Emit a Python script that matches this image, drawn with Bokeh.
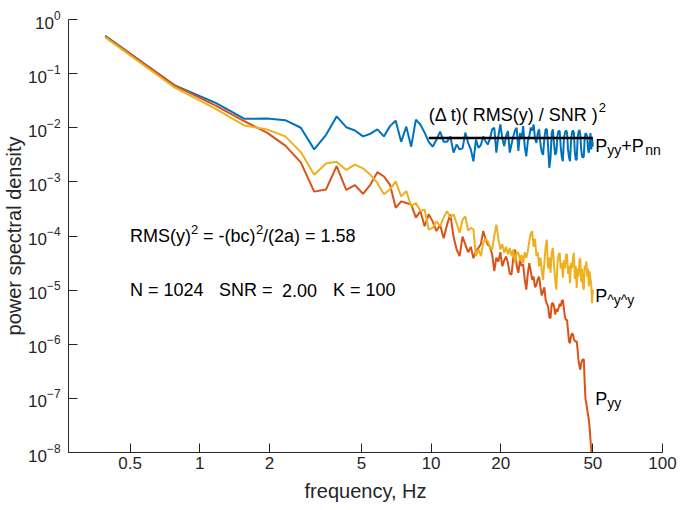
import numpy as np
from bokeh.plotting import figure
from bokeh.models import Label, FixedTicker, CustomJSTickFormatter, Range1d
from bokeh.embed import file_html
from bokeh.resources import INLINE

# ---- data ---------------------------------------------------------------
# frequency grid of the spectra (100 Hz sampling, 256-point segments)
freq = np.arange(1, 129) * 0.390625

# log10 of power spectral density
log10_pyy_pnn = [
    -0.30, -1.22, -1.54, -1.835, -1.83, -1.86, -2.00, -2.40, -2.13, -1.79,
    -1.99, -2.05, -2.16, -2.11, -2.03, -2.16, -1.97, -1.87, -2.26, -1.98,
    -2.35, -1.85, -1.94, -2.09, -2.26, -2.35, -2.22, -2.07, -2.26, -2.26,
    -2.16, -2.46, -2.31, -2.40, -2.38, -2.09, -2.28, -2.40, -2.62, -2.22,
    -2.37, -2.32, -2.16, -2.25, -2.31, -2.20, -2.03, -2.00, -2.46, -2.15,
    -1.94, -2.20, -2.34, -2.15, -2.06, -2.46, -2.30, -2.16, -2.05, -2.00,
    -2.43, -2.10, -2.20, -1.97, -2.35, -2.53, -2.25, -2.16, -2.00, -2.05,
    -1.94, -2.20, -2.28, -2.10, -2.03, -2.30, -2.45, -2.50, -2.20, -2.03,
    -2.03, -2.35, -2.74, -2.56, -2.10, -2.03, -2.30, -2.50, -2.46, -2.15,
    -2.06, -2.06, -2.35, -2.55, -2.62, -2.20, -2.09, -2.05, -2.09, -2.40,
    -2.55, -2.62, -2.25, -2.09, -2.05, -2.09, -2.45, -2.59, -2.59, -2.20,
    -2.08, -2.04, -2.13, -2.40, -2.53, -2.55, -2.53, -2.20, -2.10, -2.12,
    -2.16, -2.40, -2.46, -2.30, -2.10, -2.40, -2.20, -2.35,
]

log10_pyy = [
    -0.31, -1.22, -1.59, -1.88, -2.09, -2.33, -2.64, -3.18, -3.14, -2.71,
    -3.15, -3.06, -3.22, -3.05, -2.82, -2.90, -3.05, -3.48, -3.36, -3.39,
    -3.42, -3.66, -3.54, -3.82, -3.60, -3.73, -3.91, -3.79, -4.04, -3.79,
    -3.60, -4.01, -4.25, -4.37, -4.01, -4.16, -4.30, -4.20, -4.41, -4.28,
    -4.22, -4.15, -3.91, -4.05, -4.16, -4.20, -4.34, -4.65, -4.40, -4.47,
    -4.30, -4.56, -4.45, -4.38, -4.50, -4.70, -4.71, -4.40, -4.25, -4.55,
    -4.68, -4.45, -4.55, -4.53, -4.80, -4.99, -4.70, -4.50, -4.65, -4.81,
    -4.75, -4.95, -4.90, -4.80, -4.75, -4.95, -5.10, -5.02, -4.95, -5.18,
    -5.25, -5.30, -5.50, -5.52, -5.25, -5.24, -5.30, -5.45, -5.35, -5.40,
    -5.33, -5.25, -5.30, -5.20, -5.18, -5.35, -5.50, -5.55, -5.55, -5.75,
    -5.95, -5.98, -5.85, -5.80, -5.82, -5.90, -5.94, -5.95, -5.94, -6.10,
    -6.30, -6.40, -6.47, -6.35, -6.30, -6.28, -6.28, -6.70, -7.02, -7.10,
    -7.20, -7.30, -7.39, -7.55, -7.76, -7.95, -8.30, -8.80,
]

log10_phat = [
    -0.33, -1.26, -1.65, -1.96, -2.03, -2.16, -2.45, -2.87, -2.66, -2.63,
    -2.78, -2.68, -2.75, -2.87, -3.02, -3.23, -3.14, -2.99, -3.27, -3.17,
    -3.45, -3.39, -3.54, -3.51, -3.88, -3.85, -3.73, -3.82, -3.66, -3.54,
    -3.66, -3.60, -3.76, -3.94, -3.70, -3.64, -3.90, -3.85, -3.88, -4.37,
    -4.25, -4.37, -4.13, -4.05, -4.10, -4.20, -4.25, -4.00, -3.79, -4.05,
    -4.25, -4.15, -4.31, -4.20, -4.34, -4.22, -4.37, -4.25, -4.50, -4.30,
    -4.31, -4.45, -4.35, -4.50, -4.30, -4.40, -4.28, -4.10, -3.95, -3.91,
    -4.20, -4.05, -4.37, -4.30, -4.56, -4.40, -4.65, -4.81, -4.50, -4.20,
    -4.07, -4.60, -4.40, -4.68, -4.30, -4.22, -4.55, -4.80, -4.99, -4.50,
    -4.35, -4.31, -4.60, -4.50, -4.77, -4.45, -4.60, -4.34, -4.34, -4.70,
    -4.55, -4.87, -4.50, -4.60, -4.40, -4.31, -4.80, -4.55, -4.96, -4.60,
    -4.75, -4.45, -4.41, -4.85, -4.60, -4.95, -4.99, -4.55, -4.60, -4.47,
    -4.75, -4.60, -4.93, -4.65, -4.80, -4.90, -5.24, -4.99,
]

# noise level (Δt)(RMS(y)/SNR)^2 and the band it is drawn over
noise_level = 0.0065
noise_band = [freq[24], freq[-1]]

x_ticks = [0.5, 1, 2, 5, 10, 20, 50, 100]
y_ticks = [1e-8, 1e-7, 1e-6, 1e-5, 1e-4, 1e-3, 1e-2, 1e-1, 1e0]

BLUE, ORANGE, YELLOW = "#0072BD", "#D95319", "#EDB120"
AX = "#262626"
FONT = "Liberation Sans"

# ---- figure -------------------------------------------------------------
p = figure(frame_width=594, frame_height=433,
           x_axis_type="log", y_axis_type="log",
           x_range=Range1d(0.271, 100), y_range=Range1d(1e-8, 1),
           output_backend="svg", toolbar_location=None,
           min_border_left=63, min_border_right=15,
           min_border_top=19, min_border_bottom=50)
p.outline_line_color = None
p.grid.visible = False

p.line(freq, 10 ** np.array(log10_pyy_pnn), line_color=BLUE, line_width=2)
p.line(freq, 10 ** np.array(log10_pyy), line_color=ORANGE, line_width=2)
p.line(freq, 10 ** np.array(log10_phat), line_color=YELLOW, line_width=2)
p.line(noise_band, [noise_level, noise_level], line_color="black", line_width=2.5)

for ax in (p.xaxis[0], p.yaxis[0]):
    ax.axis_line_color = AX
    ax.major_tick_line_color = AX
    ax.major_tick_in = 9
    ax.major_tick_out = 0
    ax.minor_tick_line_color = None
    ax.major_label_text_font = FONT
    ax.major_label_text_font_size = "17px"
    ax.major_label_text_color = AX
    ax.axis_label_text_font = FONT
    ax.axis_label_text_font_size = "20px"
    ax.axis_label_text_font_style = "normal"
    ax.axis_label_text_color = AX

p.xaxis.ticker = FixedTicker(ticks=x_ticks)
p.xaxis.formatter = CustomJSTickFormatter(code="return tick.toString();")
p.xaxis.axis_label = "frequency, Hz"
p.xaxis.major_label_standoff = 4
p.xaxis.axis_label_standoff = 8

p.yaxis.ticker = FixedTicker(ticks=y_ticks)
p.yaxis.axis_label = "power spectral density"
p.yaxis.major_label_standoff = 8
p.yaxis.axis_label_standoff = 0


def txt(x, y, s, size=18, dx=0, dy=0):
    p.add_layout(Label(x=x, y=y, text=s, x_offset=dx, y_offset=dy,
                       text_font=FONT, text_font_size=f"{size}px",
                       text_color="black", text_align="left",
                       text_baseline="middle"))


# title of noise line
ty = 10 ** -1.756
txt(9.77, ty, "(\u0394 t)( RMS(y) / SNR )")
txt(9.77, ty, "2", 13, dx=170, dy=7)

# curve names
xl = 51.2
yb = 10 ** -2.33
txt(xl, yb, "P")
txt(xl, yb, "yy", 14, dx=12, dy=-4)
txt(xl, yb, "+P", dx=26)
txt(xl, yb, "nn", 14, dx=50, dy=-4)

yh = 10 ** -5.1
txt(xl, yh, "P")
txt(xl, yh, "^y^y", 14, dx=12, dy=-4)

yp = 10 ** -7.02
txt(xl, yp, "P")
txt(xl, yp, "yy", 14, dx=12, dy=-4)

# annotations
a1 = 1e-4
txt(0.5, a1, "RMS(y)")
txt(0.5, a1, "2", 13, dx=61, dy=7)
txt(0.5, a1, "= -(bc)", dx=73)
txt(0.5, a1, "2", 13, dx=126, dy=7)
txt(0.5, a1, "/(2a) = 1.58", dx=133)

a2 = 1e-5
txt(0.5, a2, "N = 1024")
txt(0.5, a2, "SNR =", dx=89)
txt(0.5, a2, "2.00", dx=152)
txt(0.5, a2, "K = 100", dx=203)

open("out.html", "w").write(file_html(p, INLINE))
